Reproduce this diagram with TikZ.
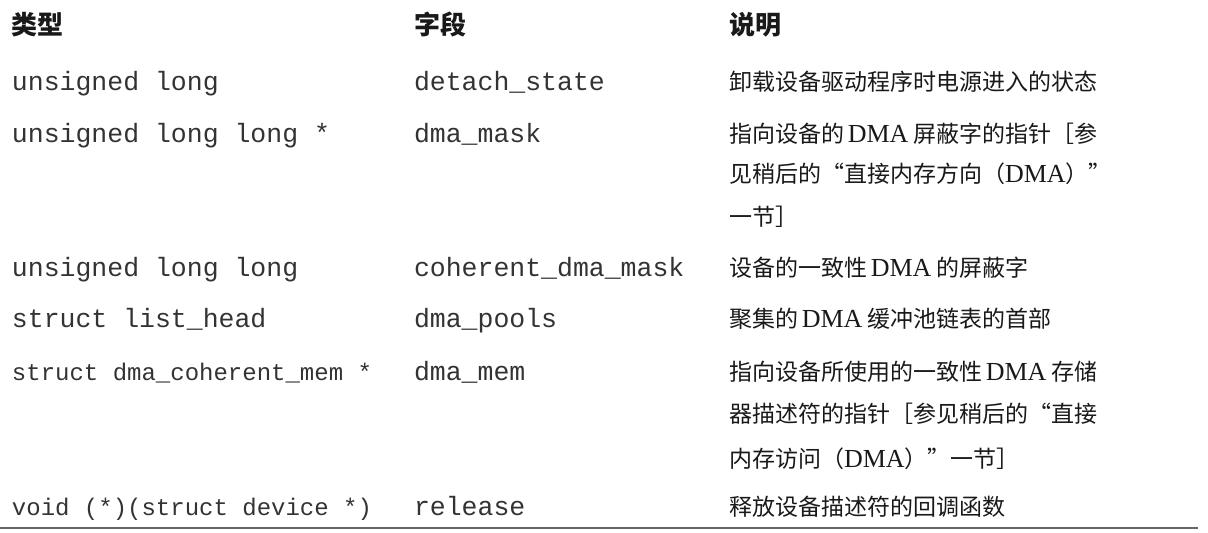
\documentclass[tikz,border=0pt]{standalone}
\usepackage{fontspec}
\newfontfamily\cjk{Noto Sans CJK SC}
\newfontfamily\cjkfw[CharacterWidth=Full]{Noto Sans CJK SC}
\newfontfamily\latserif{Liberation Serif}
\newfontfamily\monofnt{Liberation Mono}
\newcommand\DMA{{\latserif\fontsize{26}{26}\selectfont DMA}}
\newcommand\qopen{{\cjkfw “}}
\newcommand\qclose{{\cjkfw ”}}
\begin{document}
\begin{tikzpicture}[x=1pt,y=-1pt,
  cell/.style={anchor=base west, inner sep=0pt, outer sep=0pt, text=black!90},
  hd/.style={cell, font=\cjk\bfseries\fontsize{26}{26}\selectfont},
  code/.style={cell, text=black!80, font=\monofnt\fontsize{26.5}{26.5}\selectfont},
  codesm/.style={cell, text=black!80, font=\monofnt\fontsize{24}{24}\selectfont},
  desc/.style={cell, font=\cjk\fontsize{23}{23}\selectfont},
  rulestyle/.style={draw=black!60, line width=1.4pt}]
\useasboundingbox (0,0) rectangle (1208,533);
% header
\node[hd] (h1) at (12,34) {类型};
\node[hd] (h2) at (414,34) {字段};
\node[hd] (h3) at (729,34) {说明};
% row 1
\node[code] (t1) at (12,90) {unsigned long};
\node[code] (f1) at (414,90) {detach\_state};
\node[desc] (d1) at (729,90) {卸载设备驱动程序时电源进入的状态};
% row 2
\node[code] (t2) at (12,142) {unsigned long long *};
\node[code] (f2) at (414,142) {dma\_mask};
\node[desc] (d2a) at (729,142) {指向设备的\,\DMA\ 屏蔽字的指针［参};
\node[desc] (d2b) at (729,182) {见稍后的\qopen 直接内存方向（\DMA）\qclose};
\node[desc] (d2c) at (729,225) {一节］};
% row 3
\node[code] (t3) at (12,276) {unsigned long long};
\node[code] (f3) at (414,276) {coherent\_dma\_mask};
\node[desc] (d3) at (729,276) {设备的一致性\,\DMA\ 的屏蔽字};
% row 4
\node[code] (t4) at (12,327) {struct list\_head};
\node[code] (f4) at (414,327) {dma\_pools};
\node[desc] (d4) at (729,327) {聚集的\,\DMA\ 缓冲池链表的首部};
% row 5
\node[codesm] (t5) at (12,380) {struct dma\_coherent\_mem *};
\node[code] (f5) at (414,380) {dma\_mem};
\node[desc] (d5a) at (729,380) {指向设备所使用的一致性\,\DMA\ 存储};
\node[desc] (d5b) at (729,422) {器描述符的指针［参见稍后的\qopen 直接};
\node[desc] (d5c) at (729,467) {内存访问（\DMA）\qclose 一节］};
% row 6
\node[codesm] (t6) at (12,515) {void (*)(struct device *)};
\node[code] (f6) at (414,515) {release};
\node[desc] (d6) at (729,515) {释放设备描述符的回调函数};
% bottom rule
\coordinate (rl) at (0,528);
\coordinate (rr) at (1198,528);
\draw[rulestyle] (rl) -- (rr);
\end{tikzpicture}
\end{document}
